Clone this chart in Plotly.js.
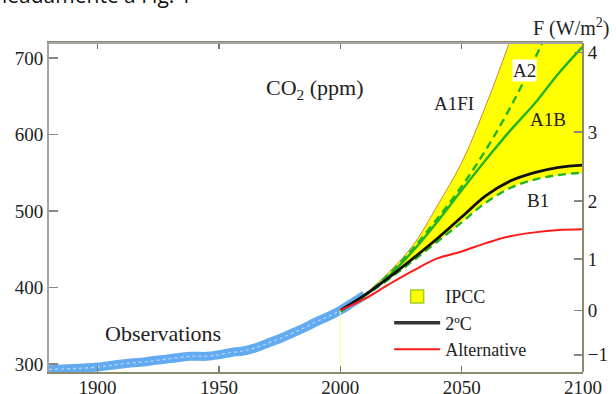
<!DOCTYPE html>
<html>
<head>
<meta charset="utf-8">
<script src="https://cdn.plot.ly/plotly-3.0.1.min.js"></script>
<style>html,body{margin:0;padding:0;background:#fff;}#chart{width:616px;height:394px;}</style>
</head>
<body>
<div id="chart"></div>
<script>
// ---- data ----
const obsYears = [1880,1890,1900,1910,1920,1930,1938,1945,1950,1955,1960,1965,1970,1975,1980,1985,1990,1995,2000,2005,2010];
const obsCO2   = [293,294,296,300,303,307,310,310,312,315,317,321,327,333,340,347,355,362,370,380,390];

const scenYears = [2000,2010,2020,2030,2040,2050,2060,2070,2080,2090,2100];
const a1fi = [369,391,420,455,507,563,638,723,815,910,958];
const a2   = [369,390,417,451,490,532,580,635,698,767,836];
const a1b  = [369,389,415,448,486,527,567,605,640,680,715];
const b1   = [369,389,411,435,460,485,511,530,541,547,550];
const twoC = [370,390,413,438,464,492,520,539,550,557,560];
const alt  = [370,385,404,422,438,447,458,467,472,475,476];

const markYears = [2000,2000];
const markCO2 = [289.5,370];

const xTicks = [1900,1950,2000,2050,2100];
const yTicks = [300,400,500,600,700];
const fTickPos = [312,370,437,513,603,707];
const fTickText = ['\u22121','0','1','2','3','4'];

// ---- chart ----
const serif = 'Liberation Serif, Times New Roman, serif';
const green = '#22b422';
const traces = [
  {x: markYears, y: markCO2, mode:'lines', line:{color:'#ffff90', width:1}, showlegend:false, hoverinfo:'skip', yaxis:'y2'},
  {x: obsYears, y: obsCO2, mode:'lines', line:{color:'#62abf0', width:9, shape:'spline'}, showlegend:false},
  {x: obsYears, y: obsCO2, mode:'lines', line:{color:'#b4d8fa', width:1.2, dash:'dot', shape:'spline'}, showlegend:false},
  {x: scenYears, y: b1, mode:'lines', line:{color:'rgba(0,0,0,0)', width:0, shape:'spline'}, showlegend:false},
  {x: scenYears, y: a1fi, mode:'lines', fill:'tonexty', fillcolor:'#ffff00', line:{color:'#c88a3c', width:1, shape:'spline'}, showlegend:false},
  {x: scenYears, y: a2, mode:'lines', line:{color:green, width:2.4, dash:'8px,5px', shape:'spline'}, showlegend:false},
  {x: scenYears, y: a1b, mode:'lines', line:{color:green, width:2.4, shape:'spline'}, showlegend:false},
  {x: scenYears, y: b1, mode:'lines', line:{color:green, width:2.4, dash:'8px,5px', shape:'spline'}, showlegend:false},
  {x: scenYears, y: twoC, mode:'lines', line:{color:'#111', width:2.8, shape:'spline'}, showlegend:false},
  {x: scenYears, y: alt, mode:'lines', line:{color:'#ff1a1a', width:2, shape:'spline'}, showlegend:false},
  {x:[null], y:[null], mode:'markers', name:'IPCC', marker:{symbol:'square', size:13, color:'#ffff00', line:{color:'#a0d020', width:1.5}}, showlegend:true},
  {x:[null], y:[null], mode:'lines', name:'2\u00baC', line:{color:'#333', width:3.5}, showlegend:true},
  {x:[null], y:[null], mode:'lines', name:'Alternative', line:{color:'#ff1a1a', width:2}, showlegend:true}
];

const axFont = {family: serif, size: 19, color:'#222'};
const txt = (s) => ({family:serif, size:s, color:'#222'});
const layout = {
  width:616, height:394,
  font:{family:serif, size:19, color:'#222'},
  margin:{l:49, r:33, t:43, b:22, pad:0},
  paper_bgcolor:'#fff', plot_bgcolor:'#fff',
  showlegend:true,
  xaxis:{range:[1880,2100], tickvals:xTicks, ticks:'inside', mirror:'ticks', ticklen:6, tickwidth:1.5, tickcolor:'#777', ticklabelstandoff:-3,
         showline:true, linecolor:'#8c8c6c', linewidth:2, showgrid:false, zeroline:false, tickfont:axFont},
  yaxis:{range:[289.5,719.5], tickvals:yTicks, ticks:'inside', ticklen:9, tickwidth:1.5, tickcolor:'#888',
         showline:true, linecolor:'#a4a4a4', linewidth:2, showgrid:false, zeroline:false, tickfont:axFont},
  yaxis2:{range:[289.5,719.5], overlaying:'y', side:'right', anchor:'free', position:0.9813, tickmode:'array', tickvals:fTickPos, ticktext:fTickText,
         ticks:'outside', ticklen:10, tickwidth:1.5, tickcolor:'#888',
         showline:false, showgrid:false, zeroline:false, tickfont:axFont},
  shapes:[
    {type:'line', xref:'paper', yref:'paper', x0:0, x1:1, y0:1, y1:1, line:{color:'#a4a4a4', width:2}, layer:'above'},
    {type:'line', xref:'paper', yref:'paper', x0:1, x1:1, y0:0, y1:1, line:{color:'#8c8c6c', width:2}, layer:'above'}
  ],
  legend:{x:0.637, y:0.285, xanchor:'left', yanchor:'top', traceorder:'normal', bgcolor:'rgba(0,0,0,0)', font:txt(18), itemwidth:46, tracegroupgap:0},
  annotations:[
    {x:1989.6, y:660, xref:'x', yref:'y', text:'CO<sub>2</sub> (ppm)', showarrow:false, font:txt(22)},
    {x:2046.9, y:641, xref:'x', yref:'y', text:'A1FI', showarrow:false, font:txt(19)},
    {x:2076.1, y:684, xref:'x', yref:'y', text:'A2', showarrow:false, bgcolor:'#fff', borderpad:0, font:txt(19)},
    {x:2085.6, y:620, xref:'x', yref:'y', text:'A1B', showarrow:false, font:txt(19)},
    {x:2081.5, y:514, xref:'x', yref:'y', text:'B1', showarrow:false, font:txt(19)},
    {x:1927, y:340, xref:'x', yref:'y', text:'Observations', showarrow:false, font:txt(22)},
    {x:0.9775, y:1.048, xref:'paper', yref:'paper', xanchor:'center', yanchor:'middle', text:'F (W/m<sup>2</sup>)', showarrow:false, font:txt(20)},
    {x:-0.092, y:1.098, xref:'paper', yref:'paper', xanchor:'left', yanchor:'bottom', text:'leadamente a Fig. 1', showarrow:false, font:{family:'Open Sans, sans-serif', size:21, color:'#111'}}
  ]
};
Plotly.newPlot('chart', traces, layout, {staticPlot:true, displayModeBar:false});
</script>
</body>
</html>
